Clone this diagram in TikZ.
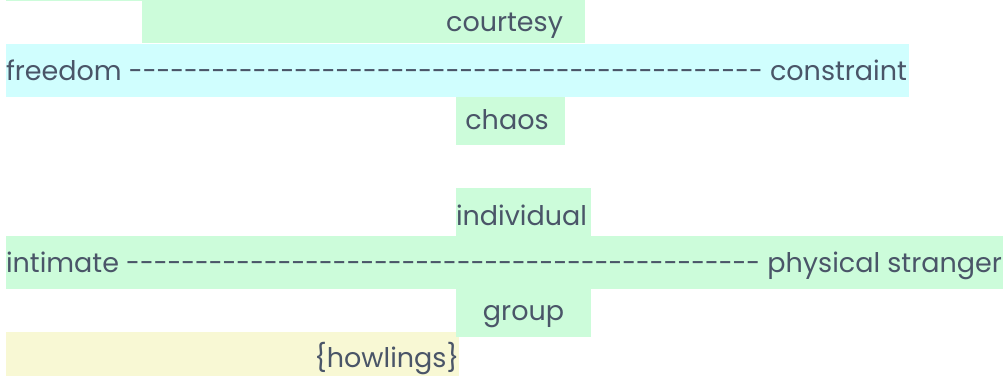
\documentclass[tikz,border=0pt]{standalone}
\usepackage{fontspec}
\setmainfont{Poppins}
\usepackage{graphicx}
\definecolor{mint}{RGB}{204,252,218}
\definecolor{aqua}{RGB}{208,254,254}
\definecolor{cream}{RGB}{248,248,212}
\definecolor{ink}{RGB}{74,85,104}
\newlength\dashw
\newlength\wordsw
\ExplSyntaxOn
\newcommand\dashrun[1]{\prg_replicate:nn{#1}{\hbox{-}}}
\ExplSyntaxOff
% #1 total width, #2 left word, #3 right word, #4 number of dashes
\newcommand\dashline[4]{%
  \setlength\dashw{#1}%
  \settowidth\wordsw{#2\ \ #3}%
  \addtolength\dashw{-\wordsw}%
  \hbox to #1{#2\ \resizebox{\dashw}{\height}{\dashrun{#4}}\ #3}}
\begin{document}
\begin{tikzpicture}[x=1pt,y=-1pt,
  lbl/.style={inner sep=0pt, outer sep=0pt, text=ink, font=\fontsize{27}{30}\selectfont}]
\useasboundingbox (0,0) rectangle (1005,376);
% background boxes
\fill[mint] (6,0) rectangle (142,1);
\fill[mint] (142,0) rectangle (585,43);
\fill[mint] (456,92) rectangle (565,145);
\fill[aqua] (6,44) rectangle (909,97);
\fill[mint] (456,188) rectangle (591,236);
\fill[mint] (6,236) rectangle (1003,289);
\fill[cream] (6,332) rectangle (459,376);
\fill[mint] (456,289) rectangle (591,337);
% texts
\node[lbl, anchor=base east] (courtesy) at (563,31) {courtesy};
\node[lbl, anchor=base west] (freedom) at (6,80)
  {\dashline{901pt}{freedom}{constraint}{46}};
\node[lbl, anchor=base] (chaos) at (507,129) {chaos};
\node[lbl, anchor=base west] (individual) at (456,225) {individual};
\node[lbl, anchor=base west] (intimate) at (6,272)
  {\dashline{996pt}{intimate}{physical stranger}{46}};
\node[lbl, anchor=base] (group) at (523.5,320) {group};
\node[lbl, anchor=base east] (howlings) at (459,367) {\{howlings\}};
\end{tikzpicture}
\end{document}
